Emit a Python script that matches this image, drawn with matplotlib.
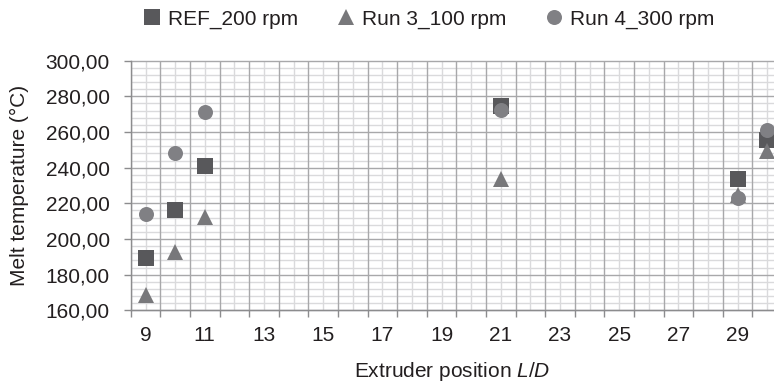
import matplotlib
matplotlib.use("Agg")
import matplotlib.pyplot as plt
from matplotlib.ticker import FixedLocator, NullFormatter

plt.rcParams['font.family'] = ['Liberation Sans', 'DejaVu Sans']
plt.rcParams['mathtext.fontset'] = 'custom'
plt.rcParams['mathtext.rm'] = 'Liberation Sans'
plt.rcParams['mathtext.it'] = 'Liberation Sans:italic'

# ---- data ----
positions = [9, 10, 11, 21, 29, 30]
ref_200 = [189.3, 216.1, 240.8, 274.5, 233.8, 255.5]
run3_100 = [168.4, 192.5, 212.6, 233.5, 224.5, 249.5]
run4_300 = [214.0, 248.5, 271.4, 272.3, 222.9, 261.2]
series_labels = ["REF_200 rpm", "Run 3_100 rpm", "Run 4_300 rpm"]

x_tick_values = [9, 11, 13, 15, 17, 19, 21, 23, 25, 27, 29]
x_tick_labels = ["9", "11", "13", "15", "17", "19", "21", "23", "25", "27", "29"]
y_tick_values = [160, 180, 200, 220, 240, 260, 280, 300]
y_tick_labels = ["160,00", "180,00", "200,00", "220,00", "240,00", "260,00", "280,00", "300,00"]

# ---- figure ----
W, H = 774, 382
fig = plt.figure(figsize=(W / 100, H / 100), dpi=100)
left_px, right_px, top_px, bottom_px = 130.7, 774, 60.7, 310.3
ax = fig.add_axes([left_px / W, 1 - bottom_px / H, (right_px - left_px) / W, (bottom_px - top_px) / H])

px_per_unit = 29.6
ax.set_xlim(8.5, 8.5 + (right_px - left_px) / px_per_unit)
ax.set_ylim(160, 300)

text_color = '#231f20'
fs = 15

# markers
ax.plot(positions, ref_200, linestyle='none', marker='s', markersize=11.5,
        color='#58585b', markeredgewidth=0, label=series_labels[0], zorder=3, clip_on=False)
ax.plot(positions, run3_100, linestyle='none', marker='^', markersize=11.5,
        color='#78787b', markeredgewidth=0, label=series_labels[1], zorder=4, clip_on=False)
ax.plot(positions, run4_300, linestyle='none', marker='o', markersize=10.8,
        color='#808084', markeredgewidth=0, label=series_labels[2], zorder=5, clip_on=False)

# x axis: dark gridlines/ticks at half-integers, light gridlines at integers
half_positions = [v + 0.5 for v in range(8, 31)]
int_positions = list(range(9, 31))
ax.xaxis.set_major_locator(FixedLocator(x_tick_values))
ax.set_xticklabels(x_tick_labels)
ax.tick_params(axis='x', which='major', length=0, pad=11, labelsize=fs, labelcolor=text_color)

for v in half_positions:
    ax.axvline(v, color='#a8a8aa', linewidth=1.0, zorder=1)
for v in int_positions:
    ax.axvline(v, color='#dadadc', linewidth=1.0, zorder=0.9)

# x tick marks at half-integers (below axis)
ax.xaxis.set_minor_locator(FixedLocator(half_positions))
ax.xaxis.set_minor_formatter(NullFormatter())
ax.tick_params(axis='x', which='minor', length=5, width=1.0, color='#8c8c8e', direction='out')

# y axis
ax.yaxis.set_major_locator(FixedLocator(y_tick_values))
ax.set_yticklabels(y_tick_labels)
ax.tick_params(axis='y', which='major', length=5, width=1.0, color='#8c8c8e',
               pad=10, labelsize=fs, labelcolor=text_color)
minor_y = [v for v in range(160, 301, 4) if v % 20 != 0]
for v in y_tick_values:
    ax.axhline(v, color='#a8a8aa', linewidth=1.0, zorder=1, clip_on=False)
for v in minor_y:
    ax.axhline(v, color='#dadadc', linewidth=1.0, zorder=0.9)

for s in ['top', 'right']:
    ax.spines[s].set_visible(False)
for s in ['left', 'bottom']:
    ax.spines[s].set_color('#8c8c8e')
    ax.spines[s].set_linewidth(1.0)
    ax.spines[s].set_zorder(2)

ax.set_xlabel(r"Extruder position $\mathit{L/D}$", fontsize=fs, color=text_color, labelpad=11)
ax.set_ylabel("Melt temperature (°C)", fontsize=fs, color=text_color, labelpad=12)

leg = fig.legend(loc='center', bbox_to_anchor=(429 / W, 1 - 19 / H), ncol=3, frameon=False,
                 fontsize=fs, numpoints=1, handlelength=0.8, handletextpad=0.35,
                 columnspacing=1.9, borderaxespad=0)
for t in leg.get_texts():
    t.set_color(text_color)

fig.savefig("out.png", dpi=100)
